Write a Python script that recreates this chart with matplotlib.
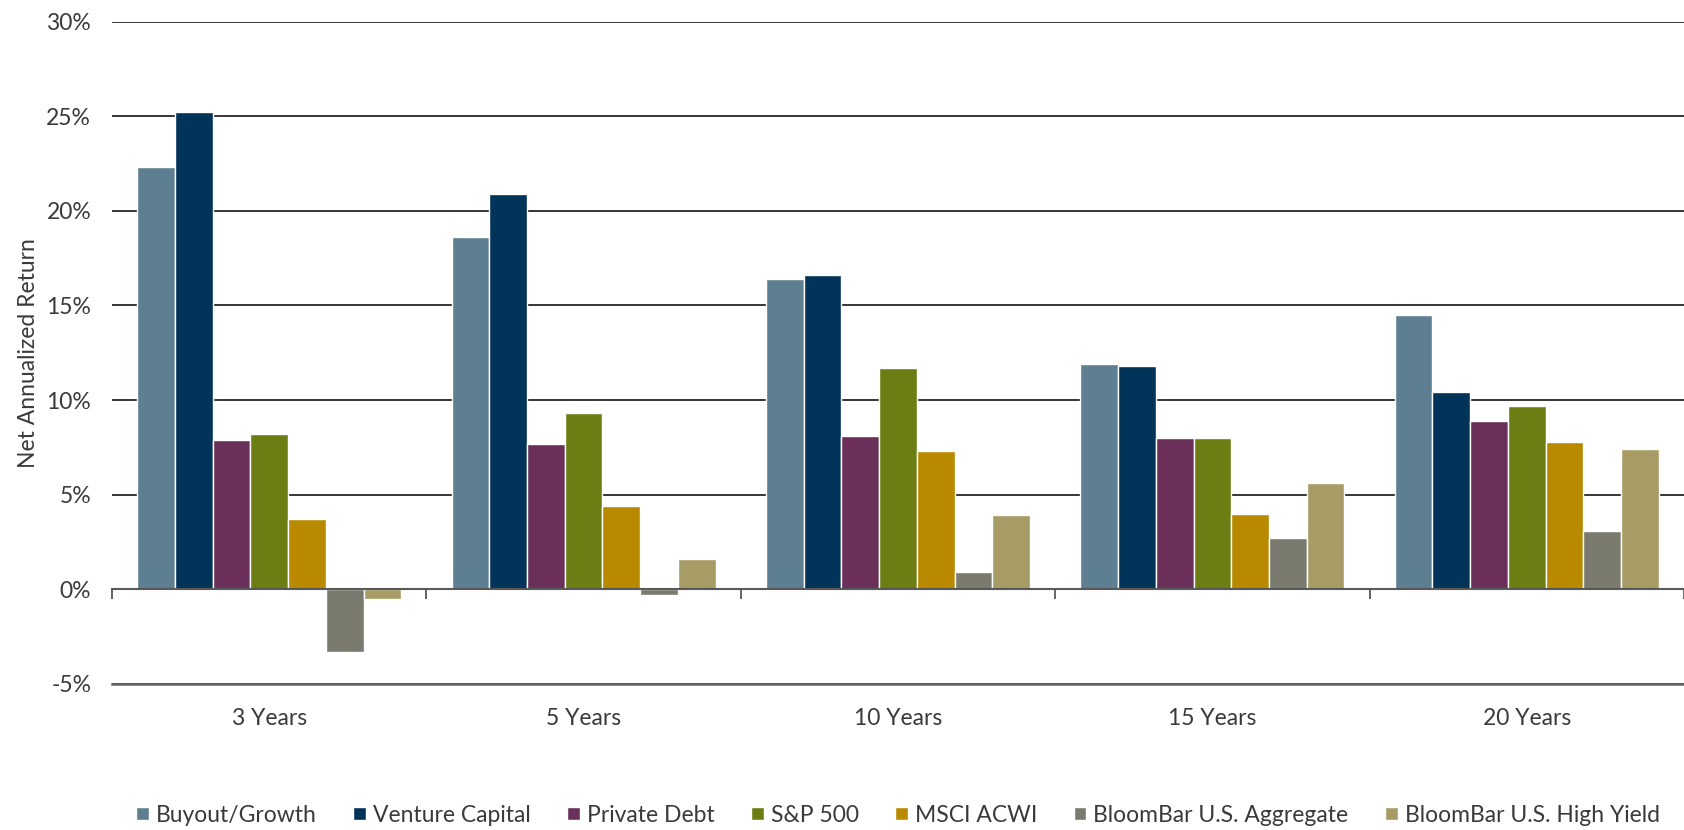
import numpy as np
import matplotlib
matplotlib.use("Agg")
import matplotlib.pyplot as plt

# data (net annualized return, %)
periods = ["3 Years", "5 Years", "10 Years", "15 Years", "20 Years"]
series = ["Buyout/Growth", "Venture Capital", "Private Debt", "S&P 500",
          "MSCI ACWI", "BloomBar U.S. Aggregate", "BloomBar U.S. High Yield"]

buyout = [22.3, 18.6, 16.4, 11.9, 14.5]
venture = [25.2, 20.9, 16.6, 11.8, 10.4]
private_debt = [7.9, 7.7, 8.1, 8.0, 8.9]
sp500 = [8.2, 9.3, 11.7, 8.0, 9.7]
msci_acwi = [3.7, 4.4, 7.3, 4.0, 7.8]
bb_agg = [-3.3, -0.3, 0.9, 2.7, 3.1]
bb_hy = [-0.5, 1.6, 3.9, 5.6, 7.4]

values = [buyout, venture, private_debt, sp500, msci_acwi, bb_agg, bb_hy]
colors = ["#5E7F92", "#023459", "#6B3059", "#6C7E13", "#B98A00", "#7A7A6E", "#A89C66"]

plt.rcParams["font.family"] = ["Lato", "DejaVu Sans"]
text_color = "#3a3a3a"
fs = 16.5

fig = plt.figure(figsize=(16.84, 8.30), dpi=100)
ax = fig.add_axes([0.0665, 0.176, 0.9335, 0.798])

x = np.arange(len(periods))
slot = 0.12
for i, (name, vals, c) in enumerate(zip(series, values, colors)):
    offset = (i - (len(series) - 1) / 2) * slot
    ax.bar(x + offset, vals, slot, color=c, edgecolor="white", linewidth=1.0,
           label=name, zorder=3)

ax.set_xlim(-0.5, len(periods) - 0.5)
ax.set_ylim(-5, 30)
ax.set_yticks(np.arange(-5, 31, 5))
ax.set_yticklabels([f"{v}%" for v in range(-5, 31, 5)])
ax.grid(axis="y", color="#262626", linewidth=1.3, zorder=0)
ax.tick_params(axis="y", length=0, pad=15, labelsize=fs, labelcolor=text_color)

ax.set_xticks(x)
ax.set_xticklabels(periods)
ax.tick_params(axis="x", length=0, pad=17, labelsize=fs, labelcolor=text_color)

for s in ["top", "right", "left"]:
    ax.spines[s].set_visible(False)
ax.spines["bottom"].set_color("#666666")
ax.spines["bottom"].set_linewidth(1.8)
ax.spines["bottom"].set_zorder(4)

# zero line with category separators
zero_axis = ax.secondary_xaxis(0, transform=ax.transData)
zero_axis.set_xticks(np.arange(-0.5, len(periods), 1.0))
zero_axis.set_xticklabels([])
zero_axis.tick_params(axis="x", direction="out", length=7, width=1.3, color="#595959")
zero_axis.spines["bottom"].set_color("#595959")
zero_axis.spines["bottom"].set_linewidth(1.5)
zero_axis.set_zorder(4)

ax.set_ylabel("Net Annualized Return", fontsize=fs, color=text_color, labelpad=5)

ax.legend(loc="center", bbox_to_anchor=(0.5, -0.198), ncol=7, frameon=False,
          fontsize=fs, handlelength=0.55, handleheight=0.55, handletextpad=0.3,
          columnspacing=1.6, labelcolor=text_color)

fig.savefig("out.png", dpi=100)
